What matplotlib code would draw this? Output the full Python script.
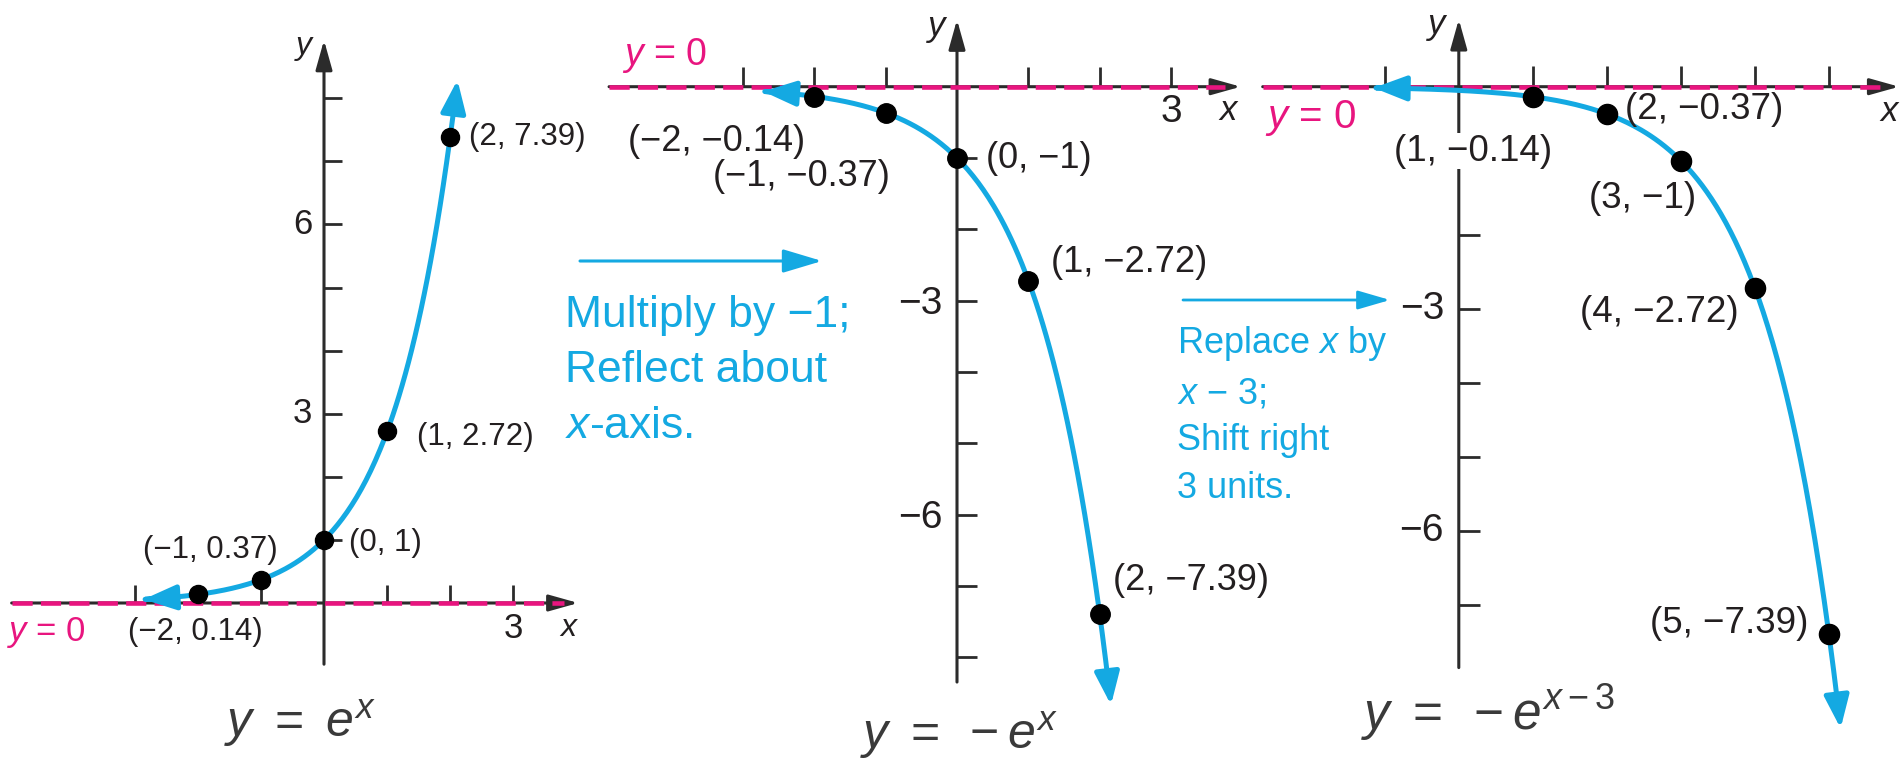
import numpy as np
import matplotlib
matplotlib.use("Agg")
import matplotlib.pyplot as plt
from matplotlib.patches import FancyArrowPatch
from matplotlib.path import Path

# ---------------- data ----------------
base_x = [-2, -1, 0, 1, 2]
exp_y = [0.14, 0.37, 1, 2.72, 7.39]          # y = e^x
neg_y = [-0.14, -0.37, -1, -2.72, -7.39]     # y = -e^x
shift_x = [1, 2, 3, 4, 5]
shift_y = [-0.14, -0.37, -1, -2.72, -7.39]   # y = -e^(x-3)

p1_xticks = [-3, -2, -1, 1, 2, 3]
p1_yticks = [1, 2, 3, 4, 5, 6, 7, 8]
p1_xlabels = {3: "3"}
p1_ylabels = {3: "3", 6: "6"}

p2_xticks = [-3, -2, -1, 1, 2, 3]
p2_yticks = [-1, -2, -3, -4, -5, -6, -7, -8]
p2_xlabels = {3: "3"}
p2_ylabels = {-3: "\u22123", -6: "\u22126"}

p3_xticks = [-1, 1, 2, 3, 4, 5]
p3_yticks = [-1, -2, -3, -4, -5, -6, -7]
p3_ylabels = {-3: "\u22123", -6: "\u22126"}

# ---------------- style ----------------
W, H, DPI = 1903, 764, 100
CYAN = "#14a9e2"
PINK = "#e8157f"
AXC = "#2b2b2b"
TXT = "#231f20"
FORM = "#3a3a3a"

plt.rcParams["font.family"] = ["Liberation Sans", "DejaVu Sans"]
plt.rcParams["mathtext.fontset"] = "custom"
plt.rcParams["mathtext.rm"] = "Liberation Sans"
plt.rcParams["mathtext.it"] = "Liberation Sans:italic"
plt.rcParams["mathtext.bf"] = "Liberation Sans:bold"

fig = plt.figure(figsize=(W / DPI, H / DPI), dpi=DPI)
fig.patch.set_facecolor("white")

# pixel-space overlay for captions and transformation arrows
ov = fig.add_axes([0, 0, 1, 1])
ov.set_xlim(0, W)
ov.set_ylim(H, 0)
ov.set_axis_off()


def fmt(v):
    return f"{v:g}".replace("-", "\u2212")


def make_panel(origin, unit, xlim, ylim):
    ox, oy = origin
    left = ox + xlim[0] * unit
    right = ox + xlim[1] * unit
    top = oy - ylim[1] * unit
    bottom = oy - ylim[0] * unit
    ax = fig.add_axes([left / W, 1 - bottom / H, (right - left) / W, (bottom - top) / H])
    ax.set_xlim(xlim)
    ax.set_ylim(ylim)
    ax.set_axis_off()
    return ax


def draw_frame(ax, unit, xspan, yspan, pink_span, xticks, yticks, tick_px=18):
    t = tick_px / unit
    for a, b in (((xspan[0], 0), (xspan[1], 0)), ((0, yspan[0]), (0, yspan[1]))):
        ax.add_patch(FancyArrowPatch(a, b, arrowstyle="-|>,head_length=1.0,head_width=0.28",
                                     mutation_scale=18, lw=2.2, color=AXC,
                                     shrinkA=0, shrinkB=0, zorder=2, clip_on=False))
    ax.vlines(xticks, 0, t, color=AXC, lw=2.0, zorder=2, clip_on=False)
    ax.hlines(yticks, 0, t, color=AXC, lw=2.0, zorder=2, clip_on=False)
    ax.plot(pink_span, [0, 0], color=PINK, lw=3.3, ls=(0, (4.4, 1.8)),
            dash_capstyle="butt", zorder=3, clip_on=False)


def draw_curve(ax, xs, ys):
    ax.add_patch(FancyArrowPatch(path=Path(np.column_stack([xs, ys])),
                                 arrowstyle="<|-|>,head_length=1.1,head_width=0.42",
                                 mutation_scale=18, lw=3.6, color=CYAN,
                                 zorder=4, clip_on=False))


def draw_points(ax, xs, ys, offsets, size, ms):
    ax.plot(xs, ys, "o", color="black", ms=ms, zorder=5, clip_on=False)
    texts = []
    for x, y, (dx, dy, ha) in zip(xs, ys, offsets):
        texts.append(ax.annotate(f"({fmt(x)}, {fmt(y)})", (x, y), xytext=(dx, dy),
                                 textcoords="offset points", ha=ha, va="center",
                                 fontsize=size, color=TXT, zorder=6,
                                 annotation_clip=False))
    return texts


# ---------------- panel 1 : y = e^x ----------------
u1 = 63.1
ax1 = make_panel((324, 603), u1, (-5.1, 4.5), (-2.6, 9.4))
draw_frame(ax1, u1, (-4.95, 4.03), (-0.97, 8.92), (-4.95, 3.8), p1_xticks, p1_yticks)
xs1 = np.linspace(-2.86, 2.115, 200)
draw_curve(ax1, xs1, np.exp(xs1))
draw_points(ax1, base_x, exp_y,
            [(-1.5, -27.5, "center"), (-36.5, 21, "center"), (18, -2, "left"),
             (21.5, -4.3, "left"), (13.5, 0, "left")], 22.5, 13)
for v, s in p1_xlabels.items():
    ax1.text(v, -0.41, s, ha="center", va="center", fontsize=25, color=TXT)
for v, s in p1_ylabels.items():
    ax1.text(-0.19, v, s, ha="right", va="center", fontsize=25, color=TXT)
ax1.text(-0.32, 8.83, "y", style="italic", ha="center", va="center", fontsize=23, color=TXT)
ax1.text(3.87, -0.40, "x", style="italic", ha="center", va="center", fontsize=23, color=TXT)
ax1.text(-5.03, -0.61, "$y$ = 0", ha="left", va="baseline", fontsize=25, color=PINK)

# ---------------- panel 2 : y = -e^x ----------------
u2 = 71.3
ax2 = make_panel((957, 86.7), u2, (-5.0, 4.3), (-9.6, 1.15))
draw_frame(ax2, u2, (-4.88, 3.98), (-8.35, 0.94), (-4.88, 3.76), p2_xticks, p2_yticks, 20)
xs2 = np.linspace(-2.72, 2.16, 200)
draw_curve(ax2, xs2, -np.exp(xs2))
draw_points(ax2, base_x, neg_y,
            [(-70.5, -32, "center"), (-61, -45.5, "center"), (21, 0, "left"),
             (16.5, 12.7, "left"), (10, 24, "left")], 26, 14)
for v, s in p2_xlabels.items():
    ax2.text(v, -0.355, s, ha="center", va="center", fontsize=28, color=TXT)
for v, s in p2_ylabels.items():
    ax2.text(-0.2, v - 0.05, s, ha="right", va="center", fontsize=28, color=TXT)
ax2.text(-0.28, 0.84, "y", style="italic", ha="center", va="center", fontsize=25, color=TXT)
ax2.text(3.80, -0.34, "x", style="italic", ha="center", va="center", fontsize=25, color=TXT)
ax2.text(-4.70, 0.30, "$y$ = 0", ha="left", va="baseline", fontsize=27, color=PINK)

# ---------------- panel 3 : y = -e^(x-3) ----------------
u3 = 74.0
ax3 = make_panel((1458.8, 86.7), u3, (-2.8, 6.0), (-9.2, 1.15))
draw_frame(ax3, u3, (-2.65, 5.95), (-7.85, 0.91), (-2.65, 5.72), p3_xticks, p3_yticks, 21)
xs3 = np.linspace(-1.15, 5.16, 200)
draw_curve(ax3, xs3, -np.exp(xs3 - 3))
t3 = draw_points(ax3, shift_x, shift_y,
                 [(-43, -39, "center"), (13, 3, "left"), (-27.5, -27.5, "center"),
                  (-69, -17.5, "center"), (-72, 7, "center")], 26.5, 14.5)
t3[0].set_bbox(dict(fc="white", ec="none", pad=0.5))
t3[0].set_zorder(3.5)
for v, s in p3_ylabels.items():
    ax3.text(-0.2, v, s, ha="right", va="center", fontsize=28, color=TXT)
ax3.text(-0.295, 0.84, "y", style="italic", ha="center", va="center", fontsize=25, color=TXT)
ax3.text(5.82, -0.33, "x", style="italic", ha="center", va="center", fontsize=25, color=TXT)
ax3.text(-2.62, -0.56, "$y$ = 0", ha="left", va="baseline", fontsize=29, color=PINK)

# ---------------- transformation notes ----------------
ov.add_patch(FancyArrowPatch((580, 261), (822, 261),
                             arrowstyle="-|>,head_length=1.2,head_width=0.36",
                             mutation_scale=20, lw=2.2, color=CYAN, shrinkA=0, shrinkB=0))
for yb, line in zip((327, 382, 438), ("Multiply by \u22121;", "Reflect about", "$x$-axis.")):
    ov.text(565, yb, line, ha="left", va="baseline", fontsize=32, color=CYAN)

ov.add_patch(FancyArrowPatch((1183, 300), (1390, 300),
                             arrowstyle="-|>,head_length=1.1,head_width=0.32",
                             mutation_scale=18, lw=2.0, color=CYAN, shrinkA=0, shrinkB=0))
for yb, line in zip((353, 403, 450, 498),
                    ("Replace $x$ by", "$x$ \u2212 3;", "Shift right", "3 units.")):
    ov.text(1177, yb, line, ha="left", va="baseline", fontsize=26, color=CYAN)

# ---------------- equations ----------------
ov.text(300, 737, r"$y\ =\ e^{x}$", ha="center", va="baseline", fontsize=36, color=FORM)
ov.text(959, 749, r"$y\ =\ -e^{x}$", ha="center", va="baseline", fontsize=36, color=FORM)
ov.text(1488, 730, r"$y\ =\ -e^{x-3}$", ha="center", va="baseline", fontsize=37, color=FORM)

fig.savefig("out.png", dpi=DPI, facecolor="white")
